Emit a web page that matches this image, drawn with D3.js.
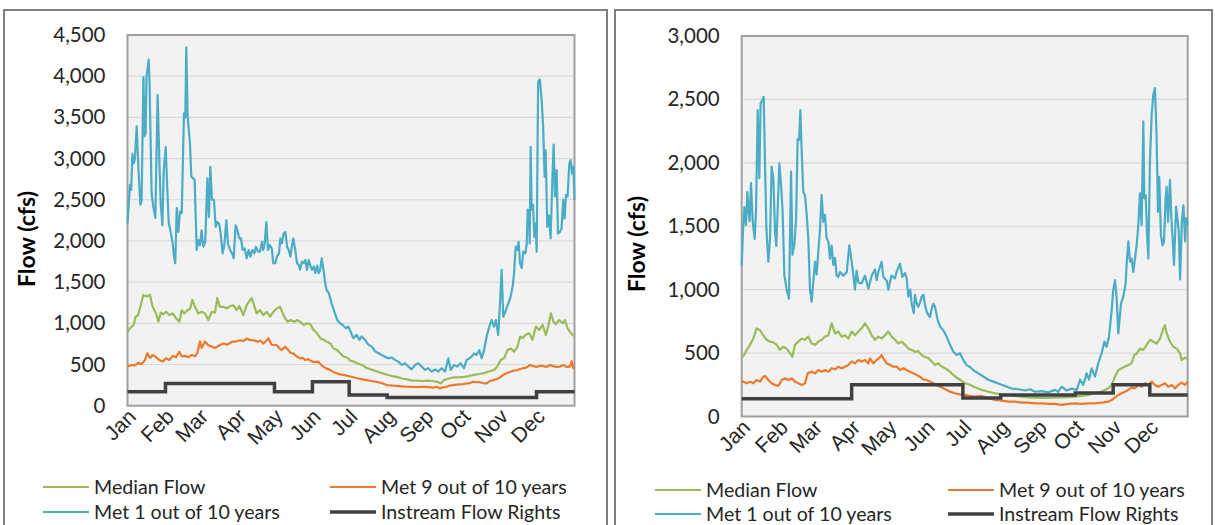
<!DOCTYPE html>
<html><head><meta charset="utf-8">
<script src="https://cdn.jsdelivr.net/npm/d3@7"></script>
<style>
html,body{margin:0;padding:0;background:#fff;}
svg{display:block;font-family:Lato,"Liberation Sans",sans-serif;}
</style></head>
<body><svg id="c" width="1215" height="525"></svg>
<script>
// ---------- DATA ----------
const months = ["Jan","Feb","Mar","Apr","May","Jun","Jul","Aug","Sep","Oct","Nov","Dec"];
const monthStarts = [0,31,59,90,120,151,181,212,243,273,304,334];
const seriesNames = ["Median Flow","Met 9 out of 10 years","Met 1 out of 10 years","Instream Flow Rights"];
const leftTicks = [0,500,1000,1500,2000,2500,3000,3500,4000,4500];
const rightTicks = [0,500,1000,1500,2000,2500,3000];

// Left chart: [day of year, cfs]
const leftMedian = [[0,900],[2,940],[5,980],[6.7,1080],[8.6,1100],[10.5,1200],[12.9,1345],[15.6,1325],[18.4,1345],[20.5,1200],[23.3,1120],[25.2,1020],[27.1,1130],[29.3,1110],[31.5,1140],[34.2,1100],[37,1120],[39.7,1060],[42.4,1020],[44.3,1160],[46.3,1120],[49,1160],[51.2,1180],[52.9,1285],[55.1,1200],[57.8,1120],[60.5,1140],[63.3,1120],[66,1040],[68.7,1140],[71.5,1130],[73.3,1305],[75.5,1200],[78.2,1200],[81,1180],[83.7,1210],[86.4,1220],[89.2,1160],[91.3,1210],[94.6,1100],[97.3,1220],[99.3,1265],[101.4,1305],[103.3,1220],[105.5,1120],[108.2,1160],[110.9,1100],[113.7,1140],[116.4,1080],[119.1,1140],[121.9,1180],[124.6,1200],[126.8,1120],[128.7,1060],[130.6,1020],[133.3,1040],[136.1,1020],[138.8,1040],[141,1020],[143.7,980],[146.5,1000],[149.2,990],[151.9,920],[154.7,880],[157.4,820],[160.1,800],[162.9,775],[165.6,755],[168.3,695],[171.1,675],[173.8,635],[176.5,595],[179.3,585],[182,545],[184.7,535],[187.5,515],[191.5,495],[195.6,455],[199.7,435],[203.8,415],[207.9,395],[212,375],[216,360],[220.1,350],[224.2,330],[228.3,320],[232.4,305],[236.5,305],[240.6,300],[244.7,305],[248.8,300],[252.9,290],[255.6,270],[258.3,310],[262.4,330],[266.5,345],[270.6,345],[274.7,350],[278.8,360],[282.9,375],[287,385],[291.1,395],[295.2,415],[299.3,435],[302,475],[304.7,555],[307.5,575],[310.2,675],[313,695],[315.7,655],[318.4,715],[320.6,840],[322.5,820],[325.2,860],[328,880],[330.7,800],[333.4,960],[336.2,920],[338.9,980],[341.6,860],[343.5,960],[345.7,1120],[347.9,1020],[349.8,990],[352.5,1040],[355.3,1000],[357.2,1040],[359.3,940],[362.1,880],[365,840]];
const leftMet9 = [[0,475],[3.4,495],[6.1,490],[8.8,520],[11.6,505],[14.3,555],[16.2,635],[18.4,580],[20.5,615],[23.3,590],[26,555],[28.7,535],[31.4,575],[34.2,555],[36.9,605],[39.6,590],[42.3,655],[44.2,600],[47,605],[49.7,590],[52.4,615],[55.1,600],[57,640],[59.2,780],[60.6,700],[63.3,780],[66,735],[68.5,720],[71.4,700],[74.8,730],[78.3,755],[81.5,740],[85.1,775],[88.5,780],[91.9,795],[94.5,785],[97.3,815],[99.5,800],[101.4,795],[104,790],[106.8,775],[108.8,790],[110.9,755],[113,780],[115,820],[117.7,740],[121.8,735],[123.8,700],[125.9,675],[128.6,715],[131.3,675],[133.3,640],[135.4,635],[138,600],[140.9,575],[143,580],[144.9,555],[147.6,565],[149.7,545],[151.7,530],[155.8,535],[157.8,500],[159.9,475],[162.6,450],[165.3,435],[168,410],[170.8,395],[173.5,380],[176.2,375],[180.3,360],[184.4,345],[188.5,330],[192,320],[195.3,310],[199.4,300],[203.4,290],[207.5,275],[211.6,250],[215.7,245],[219.8,240],[223.8,235],[227.9,230],[232,228],[236.1,225],[240.1,230],[244.2,228],[249.7,220],[252.4,230],[255.1,210],[258,225],[260.6,230],[263.3,245],[266,250],[268.8,255],[271.5,260],[274.2,262],[276.9,270],[279.6,275],[282.4,290],[285.1,285],[287.8,285],[290.5,275],[293.3,270],[296,300],[298.7,310],[302.8,330],[306.9,375],[309.6,395],[312.3,410],[315,425],[317.8,430],[320.5,445],[323.2,455],[326,465],[328.7,495],[331.4,480],[334.1,470],[336.8,485],[339.5,480],[342.3,470],[345,495],[347.7,480],[350.4,470],[353.2,475],[355.9,495],[358.6,470],[361.3,475],[362.7,540],[364,460],[365,450]];
const leftMet1 = [[0,2210],[1,2450],[2,2680],[3,2620],[4,3060],[5,2940],[6,2990],[7.5,3390],[9,2860],[10.5,2440],[11.5,2480],[13,3990],[14,3270],[14.8,3300],[15.5,3990],[17.3,4200],[18,3910],[19.7,2580],[21,2420],[22.7,2280],[24.6,3770],[26,2980],[27.1,2460],[28.5,2190],[29.6,2860],[31.2,3140],[32.3,2700],[33.6,2230],[35.2,2110],[36.9,1970],[38,1810],[39,1730],[40.2,2400],[41.5,2110],[42.9,2360],[44.3,2340],[46.1,3550],[47.2,3500],[48,4350],[49.1,3510],[51,3190],[52.1,2780],[53.7,2760],[54.8,2740],[56.5,1890],[57.8,2010],[59.2,1950],[60.5,2130],[61.9,1930],[63.5,1990],[65.2,2760],[66.5,2290],[67.6,2900],[69,2500],[70.6,2500],[72,2170],[73.4,2230],[74.8,2210],[76.1,2090],[77.7,1850],[79.1,1950],[80.7,2250],[82,1970],[83.7,1890],[85.3,1850],[86.7,1790],[88.3,2190],[89.7,2130],[91.3,2030],[92.7,2030],[94,1890],[95.7,1910],[97.3,1790],[98.9,1890],[100.3,1810],[101.9,1890],[103.6,1850],[104.9,1930],[106.5,1870],[108.2,1870],[109.8,1990],[110.9,1890],[112,1970],[113.4,2230],[114.7,1890],[116.1,1950],[117.8,1910],[119,1730],[120.7,1730],[122,1810],[123.7,1850],[124.8,2030],[126.1,1970],[127.5,2090],[128.9,2110],[130.3,1930],[131.6,1890],[133,1810],[134.4,1950],[135.4,2030],[137,1890],[138.4,1730],[139.8,1710],[140.9,1650],[142.5,1750],[143.9,1730],[145.2,1770],[146.6,1650],[148,1770],[149.3,1700],[150.7,1650],[152.1,1690],[153.4,1610],[154.8,1700],[156.2,1610],[157.2,1640],[158.6,1790],[160,1650],[161.3,1500],[162.6,1400],[164,1380],[165.3,1320],[166.7,1240],[169.4,1120],[171.3,1040],[173.5,1000],[175.7,980],[178.4,940],[180.3,960],[182.2,900],[184.4,820],[187.1,860],[189.3,800],[191.2,840],[194,800],[196.7,740],[199.4,720],[202.1,660],[204.8,640],[207.5,615],[210.3,595],[213,575],[215.7,585],[218.5,555],[221.2,535],[223.9,495],[226.6,515],[229.3,475],[232,440],[234.8,495],[237.5,515],[240.2,475],[242.9,435],[245.6,455],[248.4,415],[251.1,440],[253.8,415],[256.5,455],[259.3,415],[262,575],[263.9,435],[266.6,495],[269.3,475],[272,515],[274.8,455],[276.9,555],[279.1,575],[281,595],[282.9,635],[285.1,615],[287.3,675],[289.2,575],[291.1,675],[293.3,840],[295.4,960],[297.3,1040],[299.2,960],[300.8,1040],[302.7,860],[304.2,1240],[305.5,1650],[306.8,1080],[309,1160],[310.9,1240],[312.8,1320],[314.5,1450],[315.6,1600],[317,1930],[318.3,1890],[319.4,1990],[320.5,1730],[321.9,1670],[323.2,1870],[324.9,1850],[326,1970],[326.8,2380],[327.9,2360],[328.4,1970],[329.2,3140],[330,2380],[331.1,2440],[332.2,2050],[333.3,2210],[334.1,1870],[335.3,3930],[336.7,3960],[338,3750],[339.4,3390],[340.6,2780],[341.4,3100],[342.8,2170],[344.1,2310],[345.5,2030],[346.8,2700],[348,3170],[349,2540],[350.4,2860],[351.5,2090],[353.1,2110],[354.4,2150],[355.8,2500],[356.9,2270],[358,2560],[359.3,2540],[360.8,2940],[361.9,2980],[363,2820],[364.1,2900],[365,2500]];
const leftRights = [170,270,270,270,170,290,130,100,100,100,100,170]; // by month

// Right chart: [day of year, cfs]
const rightMedian = [[0,470],[1.3,475],[4.1,525],[6.8,565],[9.5,615],[12.2,695],[15,680],[17.7,640],[20.4,605],[23.2,590],[25.9,585],[28.6,565],[31.3,525],[34.1,550],[36.8,535],[39.5,500],[41.4,470],[43.6,565],[46.3,590],[49.1,615],[51.8,605],[54.5,630],[57.2,575],[60,565],[62.7,590],[65.4,605],[68.2,630],[70.9,640],[73.6,735],[76.4,655],[79.1,670],[81.8,630],[84.6,640],[87.3,615],[90,670],[92.7,640],[95.5,670],[98.2,695],[100.9,735],[103.6,695],[106.4,640],[109.1,605],[111.8,630],[114.5,615],[117.3,640],[120,670],[122.7,630],[125.5,605],[128.2,575],[130.9,590],[133.7,565],[136.4,535],[139.1,525],[141.8,510],[144.5,515],[147.3,485],[150,470],[152.7,460],[155.4,435],[158.2,405],[160.9,420],[163.6,395],[166.4,380],[169.1,365],[171.8,340],[174.6,315],[178.6,290],[182.7,262],[186.8,250],[190.9,230],[196.4,210],[201.8,195],[207.3,183],[212.7,177],[218.2,170],[223.6,162],[229.1,157],[234.6,151],[240,149],[245.5,147],[250.9,146],[256.4,148],[261.8,151],[267.3,152],[272.8,157],[278.2,162],[283.6,170],[289.1,183],[294.6,196],[300,222],[302.8,250],[305.5,315],[308.2,365],[311,380],[313.7,395],[316.4,405],[319.1,420],[321.3,485],[323.2,495],[325.9,535],[328.7,525],[331.4,565],[334.1,605],[336.9,590],[339.6,575],[342.4,615],[345.1,695],[346.4,720],[347.8,655],[350.5,590],[353.2,550],[356,535],[358.7,500],[360,445],[362.8,465],[365,450]];
const rightMet9 = [[0,270],[1.3,275],[4,262],[6.8,275],[9.5,262],[12.2,288],[15,275],[17.7,314],[19.1,320],[21.8,288],[24.5,262],[27.2,249],[30,241],[32.7,288],[35.4,301],[38.2,288],[40.9,301],[43.6,275],[46.3,262],[49.1,249],[51.8,262],[54,340],[57.3,353],[60,340],[62.7,366],[65.4,353],[68.2,366],[70.9,353],[73.6,380],[76.4,372],[79.1,393],[81.8,380],[84.5,393],[87.3,406],[90,433],[92.7,419],[95.4,445],[98.2,433],[100.9,445],[103.6,419],[105,459],[107.7,419],[110.4,445],[113.2,467],[114.5,485],[115.9,459],[118.6,419],[121.4,406],[124.1,393],[126.8,393],[129.5,366],[132.3,380],[135,366],[137.7,353],[140.5,340],[143.2,327],[145.9,314],[148.6,293],[151.4,288],[154.1,275],[156.8,262],[159.5,249],[162.3,235],[165,222],[167.7,209],[170.5,196],[174.5,183],[178.6,175],[182.7,170],[186.8,162],[190.9,157],[196.4,162],[201.8,144],[207.3,130],[212.7,125],[218.2,117],[223.6,117],[229.1,109],[234.6,109],[240,104],[245.5,104],[250.9,99],[256.4,99],[261.8,91],[267.3,99],[272.7,104],[278.2,99],[283.6,104],[289.1,104],[294.6,109],[300,117],[302.7,130],[305.5,151],[308.2,170],[310.9,183],[313.7,196],[316.4,209],[319.1,230],[321.8,222],[324.6,249],[327.3,235],[330,262],[332.8,249],[335.5,275],[338.2,249],[340.9,235],[343.6,249],[346.4,262],[349.1,235],[351.9,249],[354.6,222],[357.3,249],[360,267],[362.8,249],[365,275]];
const rightMet1 = [[0,1190],[1,1450],[2.2,1650],[3.5,1510],[4.6,1770],[5.7,1615],[6.5,1540],[7.6,1840],[9,1540],[10.6,1400],[11.7,1615],[13.1,2415],[14.4,1880],[15.5,2470],[16.9,2495],[18,2520],[19.1,1980],[20.2,1485],[21.8,1220],[23.2,1405],[24.5,1970],[25.9,1880],[27.3,1455],[28.3,1345],[29.4,1615],[30.8,1995],[32.2,1825],[33.5,1615],[34.9,1115],[36.8,1000],[38.7,930],[40.4,1930],[41.5,1275],[43.1,1350],[44.5,1560],[45.8,2190],[47,2180],[48,2415],[49.1,2090],[50.4,1770],[51.8,1745],[53.2,1590],[54.5,1405],[55.9,1000],[57.2,905],[58.5,1050],[60,1220],[61.3,1120],[62.7,1300],[64,1460],[65.4,1745],[66.8,1535],[68.2,1590],[69.5,1405],[70.9,1380],[72.3,1245],[73.6,1350],[75,1195],[76.4,1250],[77.7,1110],[79,1100],[80.5,1140],[83.2,1110],[86,1140],[88.1,1350],[90,1220],[91.4,1110],[92.7,1000],[94,1150],[95.5,1055],[98.2,1050],[100.9,1110],[103.6,1010],[106.4,1110],[109.1,1160],[110.4,1075],[111.8,1140],[114.5,1220],[115.9,1100],[118.7,1070],[120,1000],[122.5,1110],[125.4,1090],[126.8,1140],[129.5,1205],[131.5,1100],[133.7,1130],[135,1090],[136.4,945],[138,1000],[139.1,890],[140.8,815],[141.8,960],[143,900],[144.5,865],[146,900],[147.3,945],[148.7,960],[150,880],[151.4,825],[152.8,800],[154.1,785],[155.5,850],[156.8,890],[158.2,865],[160.4,760],[162.3,710],[165,680],[167.7,630],[170.5,565],[173.2,510],[175.9,485],[178.6,500],[181.4,445],[184.1,405],[186.8,390],[189.6,365],[193.7,340],[197.7,315],[201.8,290],[205.9,275],[210,260],[215.5,240],[220.9,220],[226.4,215],[231.8,205],[235.9,215],[240,195],[245.5,200],[250.9,190],[253.5,200],[256.4,210],[259,195],[261.8,235],[265.9,205],[270,220],[274.2,210],[276.9,290],[279.6,250],[282.3,340],[284.2,290],[286.4,380],[289.1,315],[291.8,420],[294.6,500],[296.8,590],[298.6,550],[300.6,630],[302.8,840],[304.1,1000],[305.5,1075],[306.8,945],[308.2,655],[310.4,890],[312.3,945],[314.2,1050],[315,1195],[316.4,1380],[317.8,1220],[319.1,1245],[320.5,1140],[321.9,1250],[323.2,1350],[324.6,1510],[325.9,1760],[327.3,1510],[328.7,2325],[329.5,1720],[330.6,1745],[331.7,1455],[332.8,1245],[334.1,2010],[335.5,2380],[336.8,2535],[338.2,2590],[339.5,2220],[340.7,1615],[341.7,1890],[343.1,1430],[344.5,1350],[345.6,1380],[346.9,1720],[347.8,1810],[348.9,1535],[350.5,1865],[351.6,1565],[352.7,1405],[353.8,1195],[355.5,1655],[356.6,1565],[357.7,1455],[358.8,1080],[360.2,1535],[361.5,1665],[362.9,1380],[363.7,1565],[365,1510]];
const rightRights = [140,140,140,250,250,250,145,170,170,185,250,170]; // by month

// ---------- DRAW ----------
const colors = ["#9BBB59","#EC7A2C","#4BACC6","#404040"];
const widths = [2.2,2.2,2.2,3.5];
const svg = d3.select("#c");
svg.append("rect").attr("width",1215).attr("height",525).attr("fill","#fff");

function drawChart(o){
  const g = svg.append("g");
  g.append("rect").attr("x",o.fx).attr("y",10).attr("width",o.fw).attr("height",540)
    .attr("fill","none").attr("stroke","#7f7f7f").attr("stroke-width",2);
  const x = d3.scaleLinear().domain([0,365]).range([o.left,o.right]);
  const y = d3.scaleLinear().domain([0,o.ymax]).range([o.bottom,o.top]);
  g.append("rect").attr("x",o.left).attr("y",o.top).attr("width",o.right-o.left).attr("height",o.bottom-o.top)
    .attr("fill","#f2f2f2");
  g.selectAll(".grid").data(o.ticks.slice(1)).join("line")
    .attr("x1",o.left).attr("x2",o.right).attr("y1",d=>y(d)).attr("y2",d=>y(d))
    .attr("stroke","#d9d9d9").attr("stroke-width",1.2);
  g.append("rect").attr("x",o.left).attr("y",o.top).attr("width",o.right-o.left).attr("height",o.bottom-o.top)
    .attr("fill","none").attr("stroke","#a0a0a0").attr("stroke-width",2);

  const yAxis = g.append("g").attr("transform",`translate(${o.left},0)`)
    .call(d3.axisLeft(y).tickValues(o.ticks).tickFormat(d3.format(",")).tickSize(0).tickPadding(22));
  yAxis.select(".domain").remove();
  yAxis.selectAll("text").attr("font-size",20.5).attr("fill","#262626").attr("font-family","Lato");

  const xAxis = g.append("g").attr("transform",`translate(0,${o.bottom})`)
    .call(d3.axisBottom(x).tickValues(monthStarts).tickFormat((d,i)=>months[i]).tickSize(0));
  xAxis.select(".domain").remove();
  xAxis.selectAll(".tick text").attr("font-size",21).attr("fill","#262626")
    .attr("text-anchor","end").attr("dy","0.35em").attr("y",0).attr("x",0)
    .attr("transform","translate(4,7) rotate(-45)");

  g.append("text").attr("transform",`translate(${o.titleX},${o.titleY}) rotate(-90)`)
    .attr("text-anchor","middle").attr("dy","0.35em").attr("font-size",23).attr("font-weight","bold")
    .attr("fill","#000").text("Flow (cfs)");

  const line = d3.line().x(d=>x(d[0])).y(d=>y(d[1])).curve(d3.curveLinear);
  const rights = o.rights.map((v,i)=>[monthStarts[i],v]).concat([[365,o.rights[11]]]);
  const stepLine = d3.line().x(d=>x(d[0])).y(d=>y(d[1])).curve(d3.curveStepAfter);
  const series = [o.median,o.met9,o.met1];
  series.forEach((s,i)=>{
    g.append("path").datum(s).attr("d",line).attr("fill","none")
      .attr("stroke",colors[i]).attr("stroke-width",widths[i]).attr("stroke-linejoin","round");
  });
  g.append("path").datum(rights).attr("d",stepLine).attr("fill","none")
    .attr("stroke",colors[3]).attr("stroke-width",widths[3]);

  // legend
  const lg = [[0,0],[1,0],[2,1],[3,1]];
  lg.forEach(([i,row])=>{
    const col = (i===0||i===2)?0:1;
    const lx = o.legX[col], ly = o.legY[row];
    g.append("line").attr("x1",lx).attr("x2",lx+46).attr("y1",ly).attr("y2",ly)
      .attr("stroke",colors[i]).attr("stroke-width",widths[i]);
    g.append("text").attr("x",lx+51).attr("y",ly).attr("dy","0.35em").attr("font-size",19.6)
      .attr("fill","#262626").text(seriesNames[i]);
  });
}

drawChart({fx:4,fw:603,left:127.5,right:574.5,top:35,bottom:405.7,ymax:4500,ticks:leftTicks,
  median:leftMedian,met9:leftMet9,met1:leftMet1,rights:leftRights,titleX:27,titleY:239,legX:[43,330],legY:[487,512]});
drawChart({fx:615,fw:597,left:741.7,right:1187.7,top:36,bottom:416.5,ymax:3000,ticks:rightTicks,
  median:rightMedian,met9:rightMet9,met1:rightMet1,rights:rightRights,titleX:637,titleY:244,legX:[655,948],legY:[490,514]});
</script></body></html>
